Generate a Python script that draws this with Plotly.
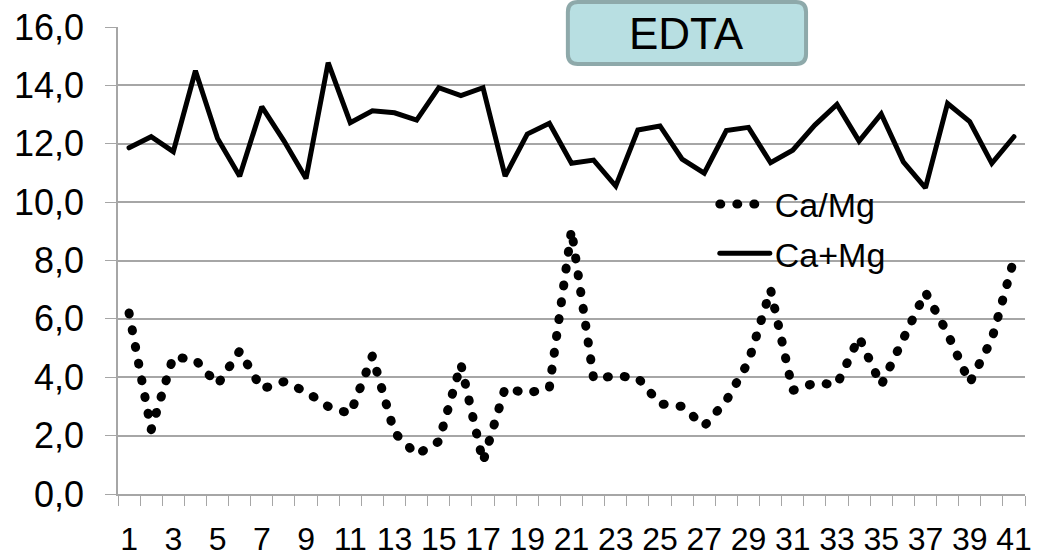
import plotly.graph_objects as go

categories = list(range(1, 42))
tick_labels = [str(c) for c in range(1, 42, 2)]
tick_positions = list(range(1, 42, 2))

ca_mg_ratio = [6.2, 2.2, 4.7, 4.6, 3.75, 4.9, 3.6, 3.85, 3.5, 3.0,
               2.75, 4.73, 2.1, 1.35, 1.8, 4.45, 1.1, 3.63, 3.45, 3.64,
               9.05, 3.95, 4.05, 3.98, 3.09, 3.0, 2.33, 3.2, 4.53, 7.0,
               3.55, 3.8, 3.75, 5.37, 3.73, 5.35, 6.91, 5.5, 3.81, 5.3,
               8.04]
ca_plus_mg = [11.86, 12.24, 11.73, 14.5, 12.18, 10.89, 13.27, 12.1, 10.81, 14.78,
              12.72, 13.13, 13.06, 12.81, 13.92, 13.65, 13.92, 10.89, 12.33, 12.7,
              11.33, 11.44, 10.55, 12.47, 12.61, 11.47, 10.99, 12.45, 12.56, 11.35,
              11.78, 12.64, 13.35, 12.09, 13.02, 11.38, 10.49, 13.38, 12.76, 11.33,
              12.24]

GRID = "#a6a6a6"
FONT = "Liberation Sans, Arial, sans-serif"

fig = go.Figure()
fig.add_trace(go.Scatter(
    x=categories, y=ca_mg_ratio, mode="lines", name="Ca/Mg",
    line=dict(color="black", width=9, dash="1px,16px"),
    legendgroup="a",
))
fig.add_trace(go.Scatter(
    x=categories, y=ca_plus_mg, mode="lines", name="Ca+Mg",
    line=dict(color="black", width=5),
    legendgroup="b",
))

# EDTA label box (rounded rectangle in paper coordinates)
x0, x1, y0, y1 = 0.496, 0.7586, 0.9208, 1.0535
rx, ry = 0.011, 0.0214
path = (f"M {x0+rx},{y1} L {x1-rx},{y1} Q {x1},{y1} {x1},{y1-ry} "
        f"L {x1},{y0+ry} Q {x1},{y0} {x1-rx},{y0} L {x0+rx},{y0} "
        f"Q {x0},{y0} {x0},{y0+ry} L {x0},{y1-ry} Q {x0},{y1} {x0+rx},{y1} Z")
fig.add_shape(type="path", path=path, xref="paper", yref="paper",
              fillcolor="#b8dfe2", line=dict(color="#8ea9aa", width=4), layer="above")
fig.add_annotation(text="EDTA", x=(x0 + x1) / 2, y=(y0 + y1) / 2, xref="paper", yref="paper",
                   xanchor="center", yanchor="middle",
                   showarrow=False, font=dict(family=FONT, size=44, color="black"))

fig.update_layout(
    width=1042, height=559,
    margin=dict(l=118, r=17, t=27, b=65, autoexpand=False),
    paper_bgcolor="white", plot_bgcolor="white",
    separators=",.",
    showlegend=True,
    legend=dict(x=0.658, y=0.682, xanchor="left", yanchor="top",
                font=dict(family=FONT, size=34, color="black"),
                bgcolor="rgba(0,0,0,0)", tracegroupgap=2, itemwidth=50),
    xaxis=dict(range=[0.5, 41.5], tickmode="array", tickvals=tick_positions, ticktext=tick_labels,
               ticks="", showgrid=False, zeroline=False, showline=True, linecolor=GRID, linewidth=1.5,
               automargin=False, ticklabeloverflow="allow",
               tickfont=dict(family="Liberation Sans Narrow, Arial Narrow, Liberation Sans, sans-serif",
                             size=32, color="black"),
               ticklabelstandoff=16,
               minor=dict(tick0=0.5, dtick=1, ticks="outside", ticklen=10, tickcolor=GRID, showgrid=False)),
    yaxis=dict(range=[0, 16], dtick=2, tickformat=".1f", showgrid=True, gridcolor=GRID, gridwidth=1.5,
               zeroline=False, showline=True, linecolor=GRID, linewidth=1.5, automargin=False,
               ticklabeloverflow="allow",
               ticks="outside", ticklen=11, tickcolor=GRID,
               tickfont=dict(family=FONT, size=36, color="black"), ticklabelstandoff=14),
)

post = (
    "document.body.style.margin='0';document.body.style.overflow='hidden';"
    "var st=document.createElement('style');"
    "st.textContent='.scatterlayer .js-line, .legendlines path {stroke-linecap: round !important;}';"
    "document.head.appendChild(st);"
)
fig.write_html("out.html", config={"displayModeBar": False}, post_script=post)
